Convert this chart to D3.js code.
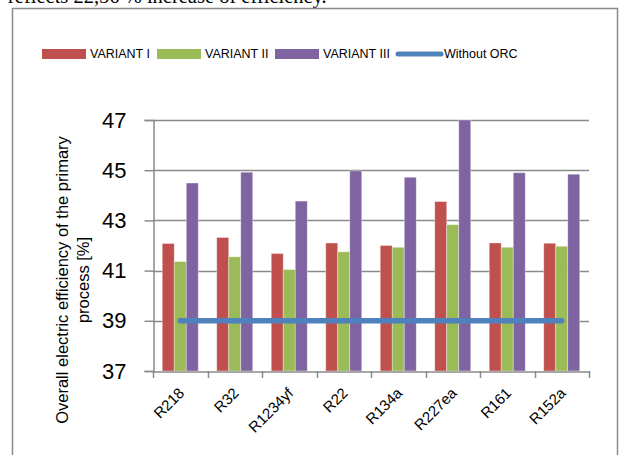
<!DOCTYPE html>
<html>
<head>
<meta charset="utf-8">
<script src="https://cdn.jsdelivr.net/npm/d3@7"></script>
<style>
  body { margin: 0; background: #fff; }
  svg { display: block; }
</style>
</head>
<body>
<div id="chart"></div>
<script>
const refrigerants = ["R218", "R32", "R1234yf", "R22", "R134a", "R227ea", "R161", "R152a"];
const variant1 = [42.08, 42.32, 41.68, 42.1, 42.0, 43.75, 42.1, 42.09];
const variant2 = [41.36, 41.55, 41.04, 41.75, 41.93, 42.83, 41.93, 41.97];
const variant3 = [44.49, 44.92, 43.77, 44.97, 44.72, 47.0, 44.9, 44.84];
const withoutOrc = [39, 39, 39, 39, 39, 39, 39, 39];
const yTicks = [37, 39, 41, 43, 45, 47];
const seriesNames = ["VARIANT I", "VARIANT II", "VARIANT III"];
const colors = ["#C0504D", "#9BBB59", "#8064A2"];
const lineColor = "#4F81BD";

const width = 619, height = 455;

const svg = d3.select("#chart")
    .append("svg")
    .attr("width", width)
    .attr("height", height);

// cut-off line of text from the page above the chart
svg.append("text")
    .attr("x", 8)
    .attr("y", 3)
    .attr("font-family", "Liberation Serif, serif")
    .attr("font-size", 20.5)
    .attr("fill", "#000")
    .text("reflects 22,56 % increase of efficiency.");

// chart frame
svg.append("path")
    .attr("d", "M12.5,460 V8.5 H617.5 V460")
    .attr("fill", "none")
    .attr("stroke", "#8c8c8c")
    .attr("stroke-width", 1.5);

const x = d3.scaleBand()
    .domain(refrigerants)
    .range([153, 589])
    .paddingInner(0)
    .paddingOuter(0);

const x1 = d3.scaleBand()
    .domain(d3.range(3))
    .range([0, x.bandwidth()])
    .paddingOuter(0.77)
    .paddingInner(0);

const y = d3.scaleLinear()
    .domain([37, 47])
    .range([371, 120]);

// gridlines
svg.append("g")
    .selectAll("line")
    .data(yTicks.slice(1))
    .enter()
    .append("line")
    .attr("x1", 153)
    .attr("x2", 589)
    .attr("y1", d => Math.round(y(d)) + 0.5)
    .attr("y2", d => Math.round(y(d)) + 0.5)
    .attr("stroke", "#8a8a8a")
    .attr("stroke-width", 1.5);

// bars
const allSeries = [variant1, variant2, variant3];
const groups = svg.append("g")
    .selectAll("g")
    .data(refrigerants)
    .enter()
    .append("g")
    .attr("transform", d => `translate(${x(d)},0)`);

groups.selectAll("rect")
    .data((d, i) => allSeries.map((s, k) => ({ k: k, v: s[i] })))
    .enter()
    .append("rect")
    .attr("x", d => x1(d.k))
    .attr("width", x1.bandwidth())
    .attr("y", d => y(d.v))
    .attr("height", d => y(37) - y(d.v))
    .attr("fill", d => colors[d.k])
    .attr("stroke", "rgba(255,255,255,0.45)")
    .attr("stroke-width", 0.8);

// without ORC line
const line = d3.line()
    .x((d, i) => x(refrigerants[i]) + x.bandwidth() / 2)
    .y(d => y(d));

svg.append("path")
    .datum(withoutOrc)
    .attr("d", line)
    .attr("fill", "none")
    .attr("stroke", lineColor)
    .attr("stroke-width", 5.5)
    .attr("stroke-linecap", "round");

// y axis
const yAxis = d3.axisLeft(y)
    .tickValues(yTicks)
    .tickSize(9)
    .tickPadding(18)
    .tickFormat(d3.format("d"));

const gy = svg.append("g")
    .attr("transform", "translate(153.5,0)")
    .call(yAxis);
gy.select(".domain").attr("stroke", "#8a8a8a").attr("stroke-width", 1.5);
gy.selectAll(".tick line").attr("stroke", "#8a8a8a").attr("stroke-width", 1.5);
gy.selectAll(".tick text")
    .attr("font-family", "Liberation Sans, Arial, sans-serif")
    .attr("font-size", 22)
    .attr("fill", "#000");

// x axis
const xAxis = d3.axisBottom(x).tickSize(0).tickFormat("");
const gx = svg.append("g")
    .attr("transform", "translate(0,371.5)")
    .call(xAxis);
gx.select(".domain").attr("stroke", "#8a8a8a").attr("stroke-width", 1.5);

svg.append("g")
    .selectAll("line")
    .data(refrigerants.map(d => x(d)).concat([589]))
    .enter()
    .append("line")
    .attr("x1", d => Math.round(d) + 0.5)
    .attr("x2", d => Math.round(d) + 0.5)
    .attr("y1", 371)
    .attr("y2", 378)
    .attr("stroke", "#8a8a8a")
    .attr("stroke-width", 1.5);

svg.append("g")
    .selectAll("text")
    .data(refrigerants)
    .enter()
    .append("text")
    .attr("transform", d => `translate(${x(d) + x.bandwidth() / 2 + 5},394) rotate(-45)`)
    .attr("text-anchor", "end")
    .attr("font-family", "Liberation Sans, Arial, sans-serif")
    .attr("font-size", 15)
    .attr("fill", "#000")
    .text(d => d);

// y axis title
const yTitle = svg.append("text")
    .attr("transform", "translate(68,280) rotate(-90)")
    .attr("text-anchor", "middle")
    .attr("font-family", "Liberation Sans, Arial, sans-serif")
    .attr("font-size", 16.5)
    .attr("fill", "#000");
yTitle.append("tspan").attr("x", 0).attr("y", 0).text("Overall electric efficiency of the primary");
yTitle.append("tspan").attr("x", 0).attr("y", 21).text("process [%]");

// legend
const legendItems = [
    { name: seriesNames[0], color: colors[0], x: 42, type: "rect" },
    { name: seriesNames[1], color: colors[1], x: 157, type: "rect" },
    { name: seriesNames[2], color: colors[2], x: 275, type: "rect" },
    { name: "Without ORC", color: lineColor, x: 396, type: "line" }
];

const legend = svg.append("g")
    .selectAll("g")
    .data(legendItems)
    .enter()
    .append("g")
    .attr("transform", d => `translate(${d.x},54)`);

legend.filter(d => d.type === "rect")
    .append("rect")
    .attr("x", 0)
    .attr("y", -5)
    .attr("width", 44)
    .attr("height", 10)
    .attr("fill", d => d.color);

legend.filter(d => d.type === "line")
    .append("line")
    .attr("x1", 2)
    .attr("x2", 45)
    .attr("y1", 0)
    .attr("y2", 0)
    .attr("stroke", d => d.color)
    .attr("stroke-width", 5)
    .attr("stroke-linecap", "round");

legend.append("text")
    .attr("x", 48)
    .attr("y", 0)
    .attr("dy", "0.35em")
    .attr("font-family", "Liberation Sans, Arial, sans-serif")
    .attr("font-size", 12.5)
    .attr("fill", "#000")
    .text(d => d.name);
</script>
</body>
</html>
